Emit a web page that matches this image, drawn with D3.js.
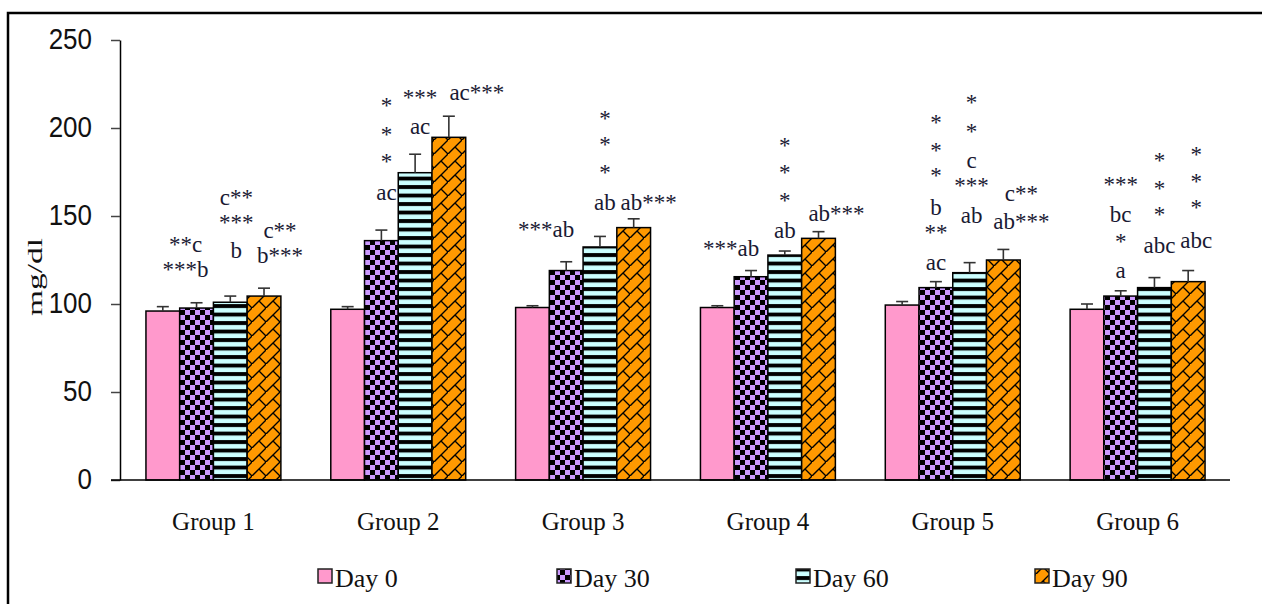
<!DOCTYPE html>
<html>
<head>
<meta charset="utf-8">
<script src="https://cdn.jsdelivr.net/npm/d3@7"></script>
<style>
  body { margin: 0; background: #fff; }
  svg { display: block; }
</style>
</head>
<body>
<div id="chart"></div>
<script>
// values (mg/dl)
var groups = ["Group 1", "Group 2", "Group 3", "Group 4", "Group 5", "Group 6"];
var days = ["Day 0", "Day 30", "Day 60", "Day 90"];
var day0  = [96, 97, 98, 98, 99.4, 97];
var day30 = [97.7, 136, 119, 115.5, 109.3, 104.5];
var day60 = [101, 174.6, 132.4, 127.8, 117.8, 109.3];
var day90 = [104.5, 194.7, 143.4, 137.3, 125, 112.7];
var err0  = [2.5, 1.5, 1, 1, 2, 3];
var err30 = [3, 6, 5, 3.5, 3.4, 3];
var err60 = [3.5, 10.5, 6, 2.3, 5.7, 5.7];
var err90 = [4.5, 12, 5, 3.8, 6, 6.3];
var yTicks = [0, 50, 100, 150, 200, 250];

// significance marks: [group, day, text, y in mg/dl units]
var marks = [
  [0, 1, "**c", 129.5], [0, 1, "***b", 115.3],
  [0, 2, "c**", 156.3], [0, 2, "***", 142], [0, 2, "b", 126.1],
  [0, 3, "c**", 137.5], [0, 3, "b***", 123.3],
  [1, 1, "*", 208.5], [1, 1, "*", 192], [1, 1, "*", 176.7], [1, 1, "ac", 159.1],
  [1, 2, "***", 212.8], [1, 2, "ac", 196.6],
  [1, 3, "ac***", 215.9],
  [2, 1, "***ab", 138.1],
  [2, 2, "*", 201.4], [2, 2, "*", 186.1], [2, 2, "*", 170.5], [2, 2, "ab", 153.4],
  [2, 3, "ab***", 153.4],
  [3, 1, "***ab", 127.3],
  [3, 2, "*", 185.8], [3, 2, "*", 170.2], [3, 2, "*", 154.8], [3, 2, "ab", 137.5],
  [3, 3, "ab***", 147.2],
  [4, 1, "*", 198.6], [4, 1, "*", 183.2], [4, 1, "*", 168.5], [4, 1, "b", 150.6], [4, 1, "**", 136.4], [4, 1, "ac", 119.3],
  [4, 2, "*", 210], [4, 2, "*", 194], [4, 2, "c", 177.3], [4, 2, "***", 163], [4, 2, "ab", 146],
  [4, 3, "c**", 158.5], [4, 3, "ab***", 142.6],
  [5, 1, "***", 163.4], [5, 1, "bc", 146.6], [5, 1, "*", 131.5], [5, 1, "a", 114.8],
  [5, 2, "*", 177.3], [5, 2, "*", 161.6], [5, 2, "*", 146.6], [5, 2, "abc", 129],
  [5, 3, "*", 180.7], [5, 3, "*", 165.6], [5, 3, "*", 150.3], [5, 3, "abc", 131.8]
];
// horizontal nudge of the marks off the bar centre, one per [group][day]
var markShift = [
  [0, -11, 6, 16],
  [0, 5, 5, 28],
  [0, -20, 5, 15],
  [0, -20, 0, 18],
  [0, 0, 2, 18],
  [0, 0, 5, 8]
];

var values = [day0, day30, day60, day90];
var errors = [err0, err30, err60, err90];
var fills = ["#ff99cc", "url(#checker)", "url(#stripes)", "url(#brick)"];

var W = 1262, H = 604;
var svg = d3.select("#chart").append("svg")
  .attr("width", W).attr("height", H);

// patterns
var defs = svg.append("defs");
var p1 = defs.append("pattern").attr("id", "checker")
  .attr("patternUnits", "userSpaceOnUse").attr("width", 10).attr("height", 10);
p1.append("rect").attr("width", 10).attr("height", 10).attr("fill", "#cc99ff");
p1.append("rect").attr("width", 5).attr("height", 5).attr("fill", "#000");
p1.append("rect").attr("x", 5).attr("y", 5).attr("width", 5).attr("height", 5).attr("fill", "#000");

var p2 = defs.append("pattern").attr("id", "stripes")
  .attr("patternUnits", "userSpaceOnUse").attr("width", 8).attr("height", 8.5);
p2.append("rect").attr("width", 8).attr("height", 8.5).attr("fill", "#000");
p2.append("rect").attr("y", 2).attr("width", 8).attr("height", 4.6).attr("fill", "#ccffff");

var p3 = defs.append("pattern").attr("id", "brick")
  .attr("patternUnits", "userSpaceOnUse").attr("width", 14).attr("height", 14);
p3.append("rect").attr("width", 14).attr("height", 14).attr("fill", "#ff9900");
p3.append("path")
  .attr("d", "M-1,15 L15,-1 M7,7 L14,14 M-7,-7 L0,0")
  .attr("stroke", "#000").attr("stroke-width", 1.4).attr("fill", "none");

// frame
svg.append("path").attr("d", "M8,605 L8,13 L1263,13")
  .attr("fill", "none").attr("stroke", "#000").attr("stroke-width", 2.5);

var x = d3.scaleBand().domain(groups).range([121, 1230])
  .paddingInner(0.27).paddingOuter(0.135);
var xs = d3.scaleBand().domain(days).range([0, x.bandwidth()]);
var y = d3.scaleLinear().domain([0, 250]).range([480, 40]);

// y axis
var ya = svg.append("g").attr("transform", "translate(120,0)")
  .call(d3.axisLeft(y).tickValues(yTicks).tickSize(9).tickSizeOuter(0));
ya.select(".domain").attr("stroke", "#000").attr("stroke-width", 1.5);
ya.selectAll(".tick line").attr("stroke", "#444").attr("stroke-width", 1.5);
ya.selectAll(".tick text")
  .attr("x", -28).attr("y", 0).attr("dy", "0.3em")
  .attr("transform", "scale(1,1.15)")
  .attr("fill", "#111")
  .style("font-family", "'Liberation Sans', Arial, sans-serif")
  .style("font-size", "26px");

svg.append("text")
  .attr("transform", "translate(42,277) rotate(-90)")
  .attr("text-anchor", "middle")
  .attr("textLength", 78).attr("lengthAdjust", "spacingAndGlyphs")
  .style("font-family", "'Liberation Serif', 'Times New Roman', serif")
  .style("font-size", "20px").attr("fill", "#111")
  .text("mg/dl");

// bars
var bars = [];
groups.forEach(function(g, gi) {
  days.forEach(function(d, di) {
    bars.push({ g: g, gi: gi, day: d, di: di, v: values[di][gi], e: errors[di][gi] });
  });
});

var barG = svg.append("g");
barG.selectAll("rect").data(bars).enter().append("rect")
  .attr("x", function(d) { return x(d.g) + xs(d.day); })
  .attr("y", function(d) { return y(d.v); })
  .attr("width", xs.bandwidth())
  .attr("height", function(d) { return y(0) - y(d.v); })
  .attr("fill", function(d) { return fills[d.di]; })
  .attr("stroke", "#000").attr("stroke-width", 1.5);

// error bars (upper only)
var eg = svg.append("g").attr("stroke", "#333").attr("stroke-width", 1.6);
bars.forEach(function(d) {
  var cx = x(d.g) + xs(d.day) + xs.bandwidth() / 2;
  eg.append("line").attr("x1", cx).attr("x2", cx)
    .attr("y1", y(d.v)).attr("y2", y(d.v + d.e));
  eg.append("line").attr("x1", cx - 6).attr("x2", cx + 6)
    .attr("y1", y(d.v + d.e)).attr("y2", y(d.v + d.e));
});

// baseline
svg.append("line").attr("x1", 111).attr("x2", x.range()[1])
  .attr("y1", y(0)).attr("y2", y(0))
  .attr("stroke", "#000").attr("stroke-width", 1.5);

// group labels
svg.append("g").selectAll("text").data(groups).enter().append("text")
  .attr("x", function(d) { return x(d) + x.bandwidth() / 2; })
  .attr("y", 530)
  .attr("text-anchor", "middle")
  .style("font-family", "'Liberation Serif', 'Times New Roman', serif")
  .style("font-size", "25px").attr("fill", "#111")
  .text(function(d) { return d; });

// significance letters
svg.append("g").selectAll("text").data(marks).enter().append("text")
  .attr("x", function(m) {
    return x(groups[m[0]]) + xs(days[m[1]]) + xs.bandwidth() / 2 + markShift[m[0]][m[1]];
  })
  .attr("y", function(m) { return y(m[3]); })
  .attr("text-anchor", "middle")
  .style("font-family", "'Liberation Serif', 'Times New Roman', serif")
  .style("font-size", "23px").attr("fill", "#1a1a33")
  .text(function(m) { return m[2]; });

// legend
var lg = svg.append("g");
days.forEach(function(d, i) {
  var lx = 318 + i * 239;
  lg.append("rect").attr("x", lx).attr("y", 569).attr("width", 14).attr("height", 14)
    .attr("fill", fills[i]).attr("stroke", "#222").attr("stroke-width", 1.5);
  lg.append("text").attr("x", lx + 17).attr("y", 587)
    .style("font-family", "'Liberation Serif', 'Times New Roman', serif")
    .style("font-size", "26px").attr("fill", "#111")
    .text(d);
});
</script>
</body>
</html>
